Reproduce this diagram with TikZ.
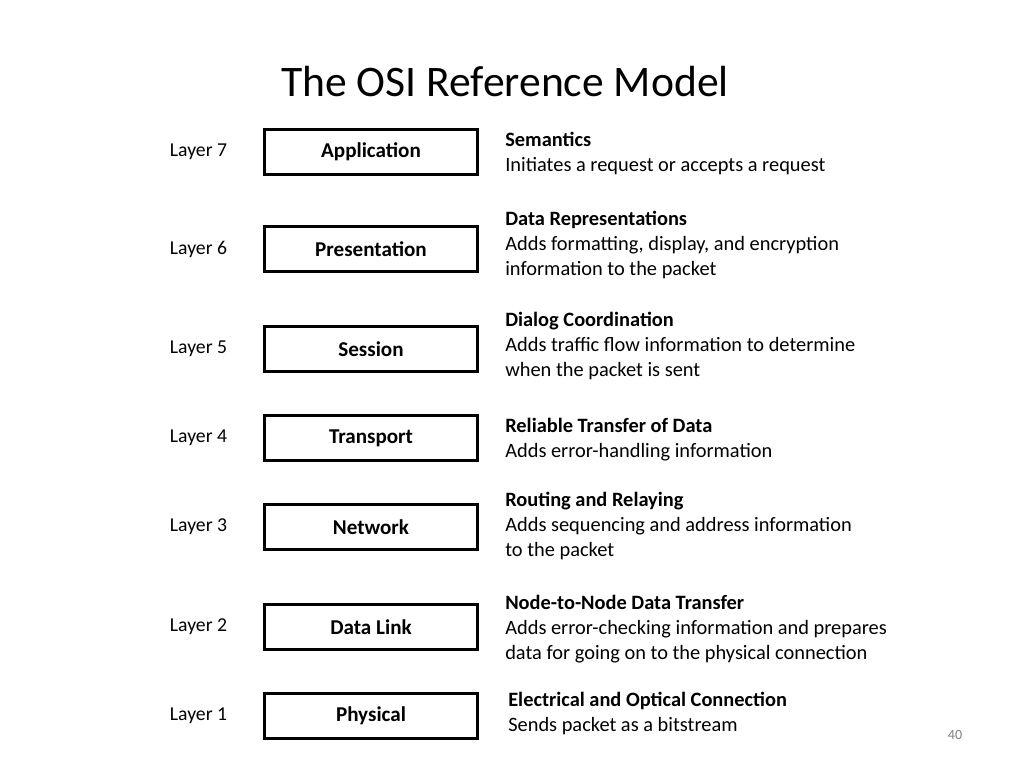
\documentclass[tikz,border=0pt]{standalone}
\usepackage{fontspec}
\setmainfont{Carlito}
\usetikzlibrary{positioning}

\begin{document}
\begin{tikzpicture}[x=0.025cm, y=-0.025cm,
    layer/.style={draw, line width=1.6pt, minimum width=213*0.025cm, minimum height=45*0.025cm, font=\fontsize{15}{18}\selectfont\bfseries},
    num/.style={font=\fontsize{14}{17}\selectfont, anchor=west},
    desc/.style={anchor=north west, align=left, inner sep=0pt, font=\fontsize{14.5}{17.8}\selectfont}
]
    \useasboundingbox (0,0) rectangle (1024,768);

    % Title
    \node[font=\fontsize{31}{36}\selectfont] (title) at (505, 82) {The OSI Reference Model};

    % Layers
    \foreach \name/\txt/\y/\n in {app/Application/152/7, pres/Presentation/249/6, sess/Session/349/5,
        trans/Transport/438/4, net/Network/527/3, link/Data Link/627/2, phys/Physical/716/1} {
        \node[layer] (\name) at (371, \y) {\txt};
        \node[num] (\name-n) at (165, \y) {Layer \n};
    }

    % Descriptions
    \node[desc] (app-d) at (505, 132) {\textbf{Semantics}\\Initiates a request or accepts a request};
    \node[desc] (pres-d) at (505, 211) {\textbf{Data Representations}\\Adds formatting, display, and encryption\\information to the packet};
    \node[desc] (sess-d) at (505, 312) {\textbf{Dialog Coordination}\\Adds traffic flow information to determine\\when the packet is sent};
    \node[desc] (trans-d) at (505, 418) {\textbf{Reliable Transfer of Data}\\Adds error-handling information};
    \node[desc] (net-d) at (505, 492) {\textbf{Routing and Relaying}\\Adds sequencing and address information\\to the packet};
    \node[desc] (link-d) at (505, 595) {\textbf{Node-to-Node Data Transfer}\\Adds error-checking information and prepares\\data for going on to the physical connection};
    \node[desc] (phys-d) at (508, 692) {\textbf{Electrical and Optical Connection}\\Sends packet as a bitstream};

    % Page number
    \node[font=\fontsize{10}{12}\selectfont, text=gray] (page) at (955, 735) {40};
\end{tikzpicture}
\end{document}
